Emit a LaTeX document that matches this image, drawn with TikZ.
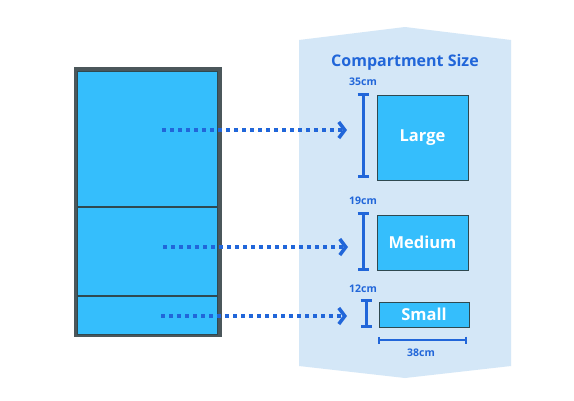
\documentclass[tikz,border=0pt]{standalone}
\usepackage{fontspec}
\setmainfont{Open Sans}
\usetikzlibrary{arrows.meta}
\definecolor{panelblue}{HTML}{D4E7F7}
\definecolor{boxcyan}{HTML}{35BEFC}
\definecolor{darkblue}{HTML}{2166D9}
\definecolor{framegray}{HTML}{4B575B}
\definecolor{edgegray}{HTML}{2F4950}
\tikzstyle{frame} = [rectangle, fill=framegray, inner sep=0pt]
\tikzstyle{shelf} = [rectangle, draw=edgegray, line width=1pt, fill=boxcyan, inner sep=0pt]
\tikzstyle{sizebox} = [rectangle, draw=edgegray, line width=1pt, fill=boxcyan, text=white, font=\fontsize{16.5}{19}\selectfont\bfseries, inner sep=0pt]
\tikzstyle{dim} = [text=darkblue, font=\fontsize{10.5}{12}\selectfont\bfseries]
\tikzstyle{arrow} = [darkblue, line width=4pt, dash pattern=on 4pt off 4pt, -{Straight Barb[length=6pt,width=16pt,line width=3.5pt]}]
\tikzstyle{measure} = [darkblue, line width=3pt, {Bar[width=11pt,line width=3pt]}-{Bar[width=11pt,line width=3pt]}]
\tikzstyle{measurethin} = [darkblue, line width=2pt, {Bar[width=7pt,line width=2pt]}-{Bar[width=7pt,line width=2pt]}]

\begin{document}
\begin{tikzpicture}[x=1pt, y=-1pt]
    \useasboundingbox [fill=white] (0,0) rectangle (574,400);
    % background panel
    \fill [panelblue] (299,40) -- (405,27) -- (511,40) -- (511,366) -- (405,378) -- (299,366) -- cycle;
    \node (title) [font=\fontsize{16}{19}\selectfont\bfseries, text=darkblue] at (405,62) {Compartment Size};

    % cabinet
    \node (cabinet) [frame, minimum width=148pt, minimum height=270pt] at (148,202) {};
    \node (lgshelf) [shelf, minimum width=140pt, minimum height=135pt] at (147,138.5) {};
    \node (mdshelf) [shelf, minimum width=140pt, minimum height=88pt] at (147,251) {};
    \node (smshelf) [shelf, minimum width=140pt, minimum height=38pt] at (147,315) {};

    % sizes
    \node (large) [sizebox, minimum width=91pt, minimum height=85pt] at (422.5,137.5) {Large};
    \node (medium) [sizebox, minimum width=91pt, minimum height=55pt] at (422.5,242.5) {Medium};
    \node (small) [sizebox, minimum width=90pt, minimum height=25pt] at (424,314.5) {Small};

    \coordinate (lgtop) at (363,93);
    \coordinate (lgbot) at (363,178);
    \coordinate (mdtop) at (363,212);
    \coordinate (mdbot) at (363,271);
    \coordinate (smtop) at (366,299);
    \coordinate (smbot) at (366,328);
    \coordinate (wleft) at (378,340);
    \coordinate (wright) at (467,340);
    \node (lgh) [dim] at (363,82) {35cm};
    \node (mdh) [dim] at (363,201) {19cm};
    \node (smh) [dim] at (363,289) {12cm};
    \node (width) [dim] at (421,353) {38cm};

    \draw [measure] (lgtop) -- (lgbot);
    \draw [measure] (mdtop) -- (mdbot);
    \draw [measure] (smtop) -- (smbot);
    \draw [measurethin] (wleft) -- (wright);

    % arrows
    \coordinate (lgfrom) at (162,130);
    \coordinate (lgto) at (347,130);
    \coordinate (mdfrom) at (163,247);
    \coordinate (mdto) at (348,247);
    \coordinate (smfrom) at (161,316);
    \coordinate (smto) at (347,316);
    \draw [arrow] (lgfrom) -- (lgto);
    \draw [arrow] (mdfrom) -- (mdto);
    \draw [arrow] (smfrom) -- (smto);
\end{tikzpicture}
\end{document}
